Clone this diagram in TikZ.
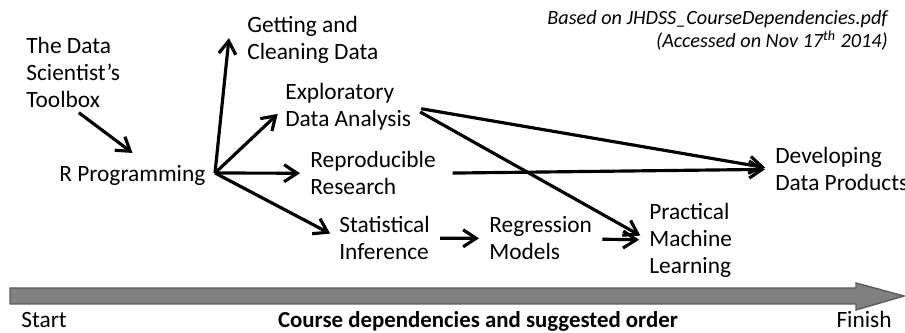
\documentclass[tikz,border=0pt]{standalone}
\usepackage{fontspec}
\setmainfont{Carlito}
\usepackage{tikz}
\definecolor{barfill}{RGB}{128,128,130}
\definecolor{barline}{RGB}{92,92,94}
\usetikzlibrary{calc,arrows.meta}
\tikzset{%
  course/.style={font=\fontsize{13.3}{15.6}\selectfont, align=left, anchor=base west, inner sep=0pt},% course name, placed at last baseline
  note/.style={font=\fontsize{11.5}{13.6}\selectfont\itshape, align=right, anchor=base east, inner sep=0pt},% source note
  dep/.style={line width=1.8pt, -{Straight Barb[length=2.6mm,width=3.4mm]}, shorten >=0.2cm, shorten <=0.2cm}% dependency arrow
}

\begin{document}
\begin{tikzpicture}[x=0.02cm, y=-0.02cm]
\useasboundingbox (0,0) rectangle (905,333);

\node[course] (toolbox) at (26,108) {The Data\\Scientist's\\Toolbox};
\node[course] (rprog) at (59,182) {R Programming};
\node[course] (getting) at (247,60) {Getting and\\Cleaning Data};
\node[course] (explor) at (285,127) {Exploratory\\Data Analysis};
\node[course] (repro) at (310,195) {Reproducible\\Research};
\node[course] (stat) at (339,260) {Statistical\\Inference};
\node[course] (regr) at (489,260) {Regression\\Models};
\node[course] (pract) at (649,274) {Practical\\Machine\\Learning};
\node[course] (dev) at (775,191) {Developing\\Data Products};

\node[note] (source) at (888,48) {Based on JHDSS\_CourseDependencies.pdf\\(Accessed on Nov 17\textsuperscript{th} 2014)};

\coordinate (hub) at (215,173);

\draw[dep, shorten <=0.14cm, shorten >=0.42cm] (toolbox.south) -- ($(rprog.north)+(17,0)$);
\draw[dep, shorten <=0pt] (hub) -- ($(getting.west)+(-17,-12)$);
\draw[dep, shorten <=0pt] (hub) -- (explor.west);
\draw[dep, shorten <=0pt] (hub) -- (repro.west);
\draw[dep, shorten <=0pt] (hub) -- (stat.west);
\draw[dep] (stat) -- (regr);
\draw[dep] (regr) -- (pract);
\draw[dep] (explor.east) -- (dev.west);
\draw[dep] (explor.east) -- (pract.west);
\draw[dep, shorten <=0.33cm] (repro.east) -- (dev.west);

% timeline
\draw[fill=barfill, draw=barline, line width=0.8pt] (10,288) -- (856,288) -- (856,283) -- (904,296)
  -- (856,310) -- (856,304) -- (10,304) -- cycle;

\node[course, anchor=base west] (start) at (21,328) {Start};
\node[course, anchor=base, font=\fontsize{13}{15.6}\selectfont\bfseries] (caption) at (478,328) {Course dependencies and suggested order};
\node[course, anchor=base east] (finish) at (892,328) {Finish};

\end{tikzpicture}
\end{document}
